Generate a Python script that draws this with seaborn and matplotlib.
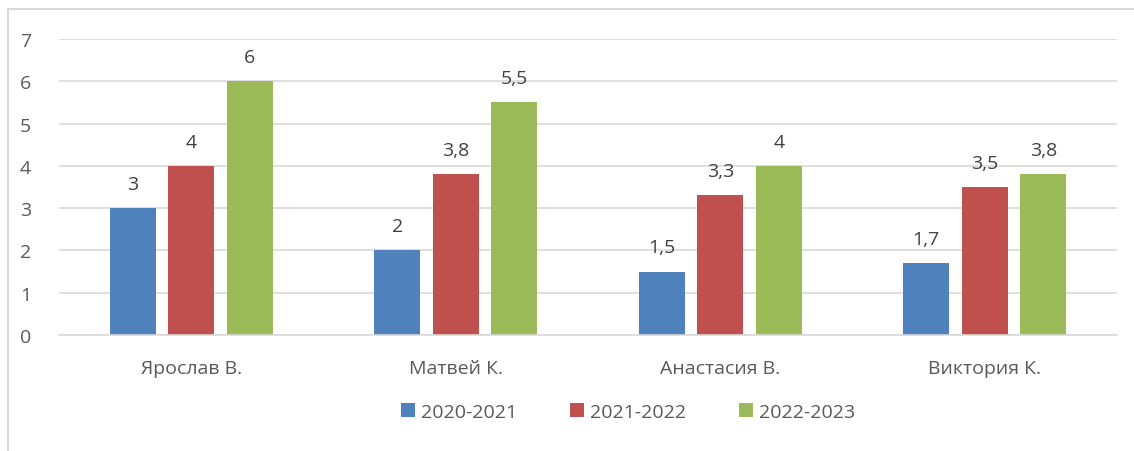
import matplotlib
matplotlib.use("Agg")
import matplotlib.pyplot as plt
import seaborn as sns
import pandas as pd
from matplotlib.patches import Rectangle, Patch

students = ["Ярослав В.", "Матвей К.", "Анастасия В.", "Виктория К."]
years = ["2020-2021", "2021-2022", "2022-2023"]
v2021 = [3, 2, 1.5, 1.7]
v2122 = [4, 3.8, 3.3, 3.5]
v2223 = [6, 5.5, 4, 3.8]
labels2021 = ["3", "2", "1,5", "1,7"]
labels2122 = ["4", "3,8", "3,3", "3,5"]
labels2223 = ["6", "5,5", "4", "3,8"]

colors = ["#4F81BD", "#C0504D", "#9BBB59"]
txt = "#595959"

rows = []
for s, a, b, c in zip(students, v2021, v2122, v2223):
    rows.append((s, years[0], a))
    rows.append((s, years[1], b))
    rows.append((s, years[2], c))
df = pd.DataFrame(rows, columns=["student", "year", "value"])

sns.set_theme(style="white")
plt.rcParams["font.family"] = ["Open Sans", "DejaVu Sans"]

fig = plt.figure(figsize=(11.34, 4.52), dpi=100)
ax = fig.add_axes([59 / 1134, 1 - 336 / 452, (1117 - 59) / 1134, (336 - 40) / 452])

sns.barplot(data=df, x="student", y="value", hue="year", palette=colors,
            width=0.664, gap=0.21, ax=ax, legend=False, saturation=1,
            linewidth=0, edgecolor="none")

for cont, labs in zip(ax.containers, [labels2021, labels2122, labels2223]):
    ax.bar_label(cont, labels=labs, padding=11, fontsize=14, color="#404040")

ax.set_ylim(0, 7)
ax.set_xlim(-0.5, 3.5)
ax.set_yticks(range(0, 8))
ax.yaxis.grid(True, color="#d9d9d9", linewidth=1.2)
ax.set_axisbelow(True)
for sp in ["top", "right", "left"]:
    ax.spines[sp].set_visible(False)
ax.spines["bottom"].set_color("#d9d9d9")
ax.spines["bottom"].set_linewidth(1.2)
ax.set_xlabel("")
ax.set_ylabel("")
ax.tick_params(axis="y", length=0, pad=20, labelsize=14, labelcolor=txt)
ax.tick_params(axis="x", length=0, pad=17, labelsize=14, labelcolor=txt)

handles = [Patch(facecolor=c, edgecolor="none") for c in colors]
fig.legend(handles, years, loc="center", bbox_to_anchor=(628 / 1134, 1 - 413 / 452),
           ncol=3, frameon=False, fontsize=14, handlelength=0.75, handleheight=0.75,
           handletextpad=0.3, columnspacing=2.7, labelcolor=txt)

fig.patches.append(Rectangle((8 / 1134, -0.1), 1.2, 1 - 10 / 452 + 0.1,
                             transform=fig.transFigure, fill=False,
                             edgecolor="#d9d9d9", linewidth=1.5))

fig.savefig("out.png", dpi=100)
